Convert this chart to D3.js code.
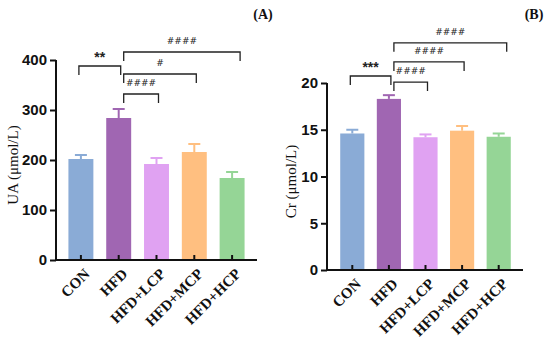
<!DOCTYPE html>
<html>
<head>
<meta charset="utf-8">
<script src="https://cdn.jsdelivr.net/npm/d3@7"></script>
<style>
  body { margin: 0; background: #fff; }
  svg { display: block; }
</style>
</head>
<body>
<div id="chart"></div>
<script>
// groups and colours
const groups = ["CON", "HFD", "HFD+LCP", "HFD+MCP", "HFD+HCP"];
const colors = ["#8aabd6", "#a066b2", "#e0a2f2", "#ffbf80", "#95d596"];

// UA (panel A)
const uaMean = [202, 284, 192, 216, 164];
const uaErr = [8, 18, 12, 16, 12];
const uaTicks = [0, 100, 200, 300, 400];
// [from, to, level, label]
const uaSig = [
  ["CON", "HFD", 388, "**"],
  ["HFD", "HFD+LCP", 332, "####"],
  ["HFD", "HFD+MCP", 372, "#"],
  ["HFD", "HFD+HCP", 416, "####"],
];

// Cr (panel B)
const crMean = [14.6, 18.3, 14.2, 14.9, 14.25];
const crErr = [0.4, 0.4, 0.3, 0.5, 0.35];
const crTicks = [0, 5, 10, 15, 20];
const crSig = [
  ["CON", "HFD", 20.75, "***"],
  ["HFD", "HFD+LCP", 20.1, "####"],
  ["HFD", "HFD+MCP", 22.25, "####"],
  ["HFD", "HFD+HCP", 24.3, "####"],
];

const SERIF = "'Liberation Serif', 'Times New Roman', serif";
const SANS = "'Liberation Sans', Arial, sans-serif";

const width = 550, height = 341;
const svg = d3.select("#chart").append("svg")
  .attr("width", width).attr("height", height);

function Panel({
  means, errs, ticks, sig, yMax,
  axisX, axisEnd, band, yRange,
  yLabel, yLabelX, tag, tagX,
}) {
  const g = svg.append("g");
  const x = d3.scaleBand().domain(groups).range(band)
    .paddingInner(0.34).paddingOuter(0.17);
  const y = d3.scaleLinear().domain([0, yMax]).range(yRange);
  const cx = (k) => x(k) + x.bandwidth() / 2;
  const rows = groups.map((k, i) => ({ k, m: means[i], e: errs[i], c: colors[i] }));

  // bars
  g.selectAll("rect.bar").data(rows).join("rect")
    .attr("class", "bar")
    .attr("x", (d) => x(d.k))
    .attr("width", x.bandwidth())
    .attr("y", (d) => y(d.m))
    .attr("height", (d) => y(0) - y(d.m))
    .attr("fill", (d) => d.c);

  // error bars (upper only)
  const eb = g.selectAll("g.err").data(rows).join("g").attr("class", "err")
    .attr("stroke", (d) => d.c).attr("stroke-width", 2);
  eb.append("line")
    .attr("x1", (d) => cx(d.k)).attr("x2", (d) => cx(d.k))
    .attr("y1", (d) => y(d.m)).attr("y2", (d) => y(d.m + d.e));
  eb.append("line")
    .attr("x1", (d) => cx(d.k) - 6).attr("x2", (d) => cx(d.k) + 6)
    .attr("y1", (d) => y(d.m + d.e)).attr("y2", (d) => y(d.m + d.e));

  // y axis
  const ya = g.append("g")
    .attr("transform", `translate(${axisX},0)`)
    .call(d3.axisLeft(y).tickValues(ticks).tickSize(6).tickPadding(3));
  ya.select(".domain").attr("stroke", "#111").attr("stroke-width", 2)
    .attr("d", `M0,${y(yMax)}V${y(0)}`);
  ya.selectAll(".tick line").attr("stroke", "#111").attr("stroke-width", 2);
  ya.selectAll(".tick text")
    .style("font-family", SANS)
    .style("font-weight", "bold").style("font-size", "15px").attr("fill", "#111");

  // x axis with inward ticks
  g.append("line")
    .attr("x1", axisX - 1).attr("x2", axisEnd)
    .attr("y1", y(0)).attr("y2", y(0))
    .attr("stroke", "#111").attr("stroke-width", 2);
  g.selectAll("line.xt").data(groups).join("line").attr("class", "xt")
    .attr("x1", cx).attr("x2", cx)
    .attr("y1", y(0)).attr("y2", y(0) - 5)
    .attr("stroke", "#111").attr("stroke-width", 2);
  g.selectAll("text.xl").data(groups).join("text").attr("class", "xl")
    .attr("transform", (d) => `translate(${cx(d) + 6},${y(0) + 11}) rotate(-45)`)
    .attr("text-anchor", "end")
    .attr("dy", "0.35em")
    .style("font-family", SERIF)
    .style("font-weight", "bold").style("font-size", "15px").attr("fill", "#111")
    .text((d) => d);

  // y label
  g.append("text")
    .attr("transform", `translate(${yLabelX},${(y(0) + y(yMax)) / 2 + 5}) rotate(-90)`)
    .attr("text-anchor", "middle").attr("dy", "0.35em")
    .style("font-family", SERIF)
    .style("font-size", "15px").attr("fill", "#111")
    .text(yLabel);

  // significance brackets
  sig.forEach(([a, b, lvl, lab]) => {
    const x1 = a === "HFD" ? cx(a) + 5 : cx(a) - 2;
    const x2 = b === "HFD+HCP" ? cx(b) + 8 : cx(b) + 2;
    const yy = y(lvl);
    g.append("path")
      .attr("d", `M${x1},${yy + 9}V${yy}H${x2}V${yy + 9}`)
      .attr("fill", "none").attr("stroke", "#222").attr("stroke-width", 1.3);
    const star = lab.startsWith("*");
    g.append("text")
      .attr("x", (x1 + x2) / 2).attr("y", yy - (star ? 9 : 11))
      .attr("text-anchor", "middle").attr("dy", "0.35em")
      .style("font-family", star ? SANS : "'DejaVu Sans', sans-serif")
      .style("font-weight", star ? "bold" : "normal")
      .style("font-style", star ? "normal" : "italic")
      .style("font-size", star ? "14px" : "9px")
      .attr("fill", "#222")
      .text(lab);
  });

  // panel tag
  g.append("text")
    .attr("x", tagX).attr("y", 19).attr("text-anchor", "middle")
    .style("font-family", SERIF)
    .style("font-weight", "bold").style("font-size", "14px").attr("fill", "#111")
    .text(tag);
}

Panel({
  means: uaMean, errs: uaErr, ticks: uaTicks, sig: uaSig, yMax: 400,
  axisX: 56, axisEnd: 257, band: [62, 251], yRange: [260, 60],
  yLabel: "UA (μmol/L)", yLabelX: 13, tag: "(A)", tagX: 263,
});

Panel({
  means: crMean, errs: crErr, ticks: crTicks, sig: crSig, yMax: 20,
  axisX: 327, axisEnd: 523, band: [334, 517], yRange: [270, 83],
  yLabel: "Cr (μmol/L)", yLabelX: 291, tag: "(B)", tagX: 534,
});
</script>
</body>
</html>
